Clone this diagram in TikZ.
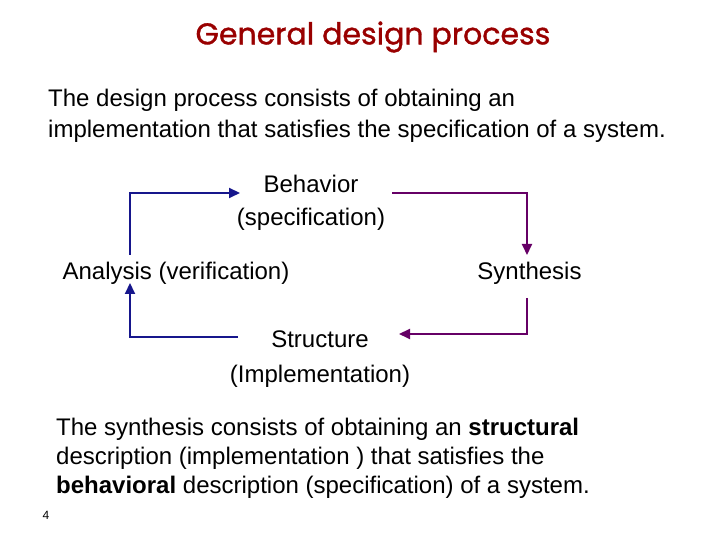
\documentclass[tikz,border=0pt]{standalone}
\usepackage{fontspec}
\setmainfont{Liberation Sans}
\newfontfamily\titlefont[FakeBold=1.2]{Poppins}
\usetikzlibrary{arrows.meta}
\definecolor{titlered}{RGB}{153,0,0}
\definecolor{navyarrow}{RGB}{22,22,140}
\definecolor{purplearrow}{RGB}{102,0,102}
\begin{document}
\begin{tikzpicture}[x=1pt,y=1pt,
  txt/.style={inner sep=0pt, font=\fontsize{24}{29}\selectfont},
  bluearrow/.style={draw=navyarrow, line width=2pt, -{Triangle[length=11pt,width=10pt]}},
  purplearrowstyle/.style={draw=purplearrow, line width=2pt, -{Triangle[length=11pt,width=10pt]}}]
\useasboundingbox (0,0) rectangle (720,540);
% title
\node[inner sep=0pt, text=titlered, font=\titlefont\fontsize{30}{36}\selectfont] (title) at (373,503) {General design process};
% intro paragraph
\node[txt, anchor=north west, align=left, font=\fontsize{24}{31}\selectfont] (intro) at (48,451)
  {The design process consists of obtaining an\\implementation that satisfies the specification of a system.};
% diagram labels
\node[txt, anchor=north, align=center, font=\fontsize{24}{33}\selectfont] (behavior) at (311,365.5) {Behavior\\(specification)};
\node[txt, anchor=base] (analysis) at (176,260) {Analysis (verification)};
\node[txt, anchor=base] (synthesis) at (529.5,260) {Synthesis};
\node[txt, anchor=north, align=center, font=\fontsize{24}{35}\selectfont] (structure) at (320,209.5) {Structure\\(Implementation)};
% connector end points
\coordinate (bt1) at (130,285);
\coordinate (bt2) at (240,347);
\coordinate (bb1) at (238,203);
\coordinate (bb2) at (130,257);
\coordinate (pt1) at (392,347);
\coordinate (pt2) at (527,285);
\coordinate (pb1) at (527,242);
\coordinate (pb2) at (399,206);
% connectors
\draw[bluearrow] (bt1) |- (bt2);
\draw[bluearrow] (bb1) -| (bb2);
\draw[purplearrowstyle] (pt1) -| (pt2);
\draw[purplearrowstyle] (pb1) |- (pb2);
% closing paragraph
\node[txt, anchor=north west, align=left] (closing) at (56,122)
  {The synthesis consists of obtaining an \textbf{structural}\\description (implementation ) that satisfies the\\\textbf{behavioral} description (specification) of a system.};
% page number
\node[inner sep=0pt, font=\fontsize{12}{14}\selectfont] (pagenum) at (46,25) {4};
\end{tikzpicture}
\end{document}
